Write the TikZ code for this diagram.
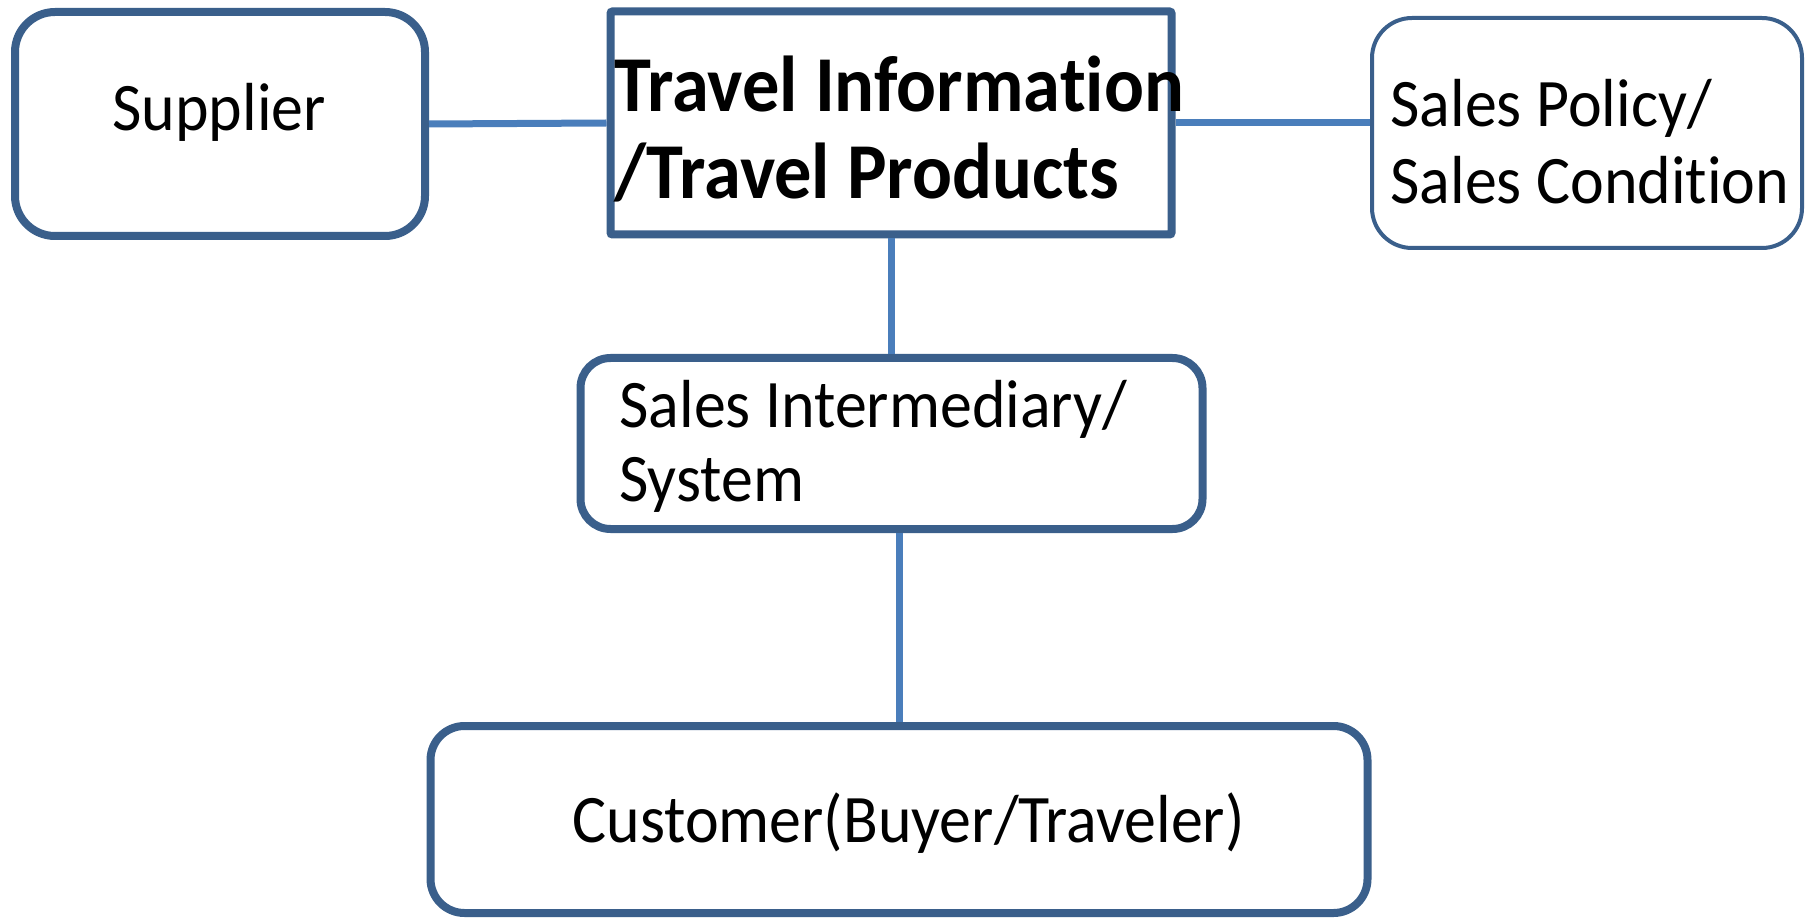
\documentclass[tikz,border=0pt]{standalone}
\usepackage{fontspec}
\setmainfont{Carlito}[FakeStretch=0.94, Ligatures=NoCommon]
\definecolor{boxblue}{HTML}{3A5F8B}
\definecolor{linkblue}{HTML}{4A7EBB}
\begin{document}
\begin{tikzpicture}[x=0.5pt,y=-0.5pt,
  box/.style={draw=boxblue, line width=4pt, fill=white, inner sep=0pt},
  link/.style={draw=linkblue, line width=3.5pt},
  txt/.style={inner sep=0pt, anchor=base west, align=left, font=\fontsize{34}{37}\selectfont}]
\useasboundingbox (0,0) rectangle (1814,919);
\node[box, rounded corners=20pt, minimum width=205pt, minimum height=112pt] (sup) at (220,124) {};
\node[box, rounded corners=1pt, minimum width=280.5pt, minimum height=111.5pt] (ctr) at (891,123) {};
\node[box, line width=2pt, rounded corners=20pt, minimum width=215pt, minimum height=115pt] (pol) at (1587,133) {};
\node[box, rounded corners=15pt, minimum width=311pt, minimum height=85.5pt] (int) at (891.5,443.5) {};
\node[box, rounded corners=17pt, minimum width=468.5pt, minimum height=93.5pt] (cus) at (899,819.5) {};
\draw[link] (sup.east) -- (ctr.west);
\draw[link] (ctr.east) -- (ctr.east -| pol.west);
\draw[link] (ctr.south) -- (ctr.south |- int.north);
\draw[link] (int.south -| cus.north) -- (cus.north);
\node[txt] (tsup) at (112,131) {Supplier};
\node[txt, font=\bfseries\fontsize{39.6}{43.5}\selectfont] (tctr) at (614,199) {Travel Information\\/Travel Products};
\node[txt, font=\fontsize{34}{38.5}\selectfont] (tpol) at (1390,204) {Sales Policy/\\Sales Condition};
\node[txt, font=\fontsize{34}{36.5}\selectfont] (tint) at (619,501) {Sales Intermediary/\\System};
\node[txt] (tcus) at (572,842) {Customer(Buyer/Traveler)};
\end{tikzpicture}
\end{document}
